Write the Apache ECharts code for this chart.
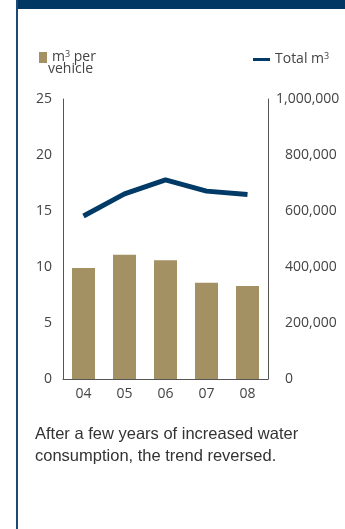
<!DOCTYPE html>
<html>
<head>
<meta charset="utf-8">
<script src="https://cdn.jsdelivr.net/npm/echarts@6/dist/echarts.min.js"></script>
<style>
  html, body { margin: 0; padding: 0; background: #fff; }
  #chart { width: 345px; height: 529px; }
</style>
</head>
<body>
<div id="chart"></div>
<script>
const years = ['04', '05', '06', '07', '08'];
const perVehicle = [9.9, 11.1, 10.6, 8.6, 8.3];
const totalM3 = [582000, 661000, 711000, 671000, 659000];
const leftTicks = { min: 0, max: 25, interval: 5 };
const rightTicks = { min: 0, max: 1000000, interval: 200000 };

const navy = '#003a66';
const gold = '#a39163';
const axisGrey = '#555';
const labelGrey = '#444';
const fs = 14;

const chart = echarts.init(document.getElementById('chart'));
chart.setOption({
  backgroundColor: '#fff',
  animation: false,
  textStyle: { fontFamily: 'Open Sans' },
  grid: { left: 63, right: 77, top: 99, bottom: 150 },
  legend: [
    {
      data: [{ name: 'perVehicle', icon: 'rect' }],
      left: 34, top: 45,
      itemWidth: 8, itemHeight: 11, itemGap: 5,
      formatter: () => '{a|m}{s|3}{a| per}',
      textStyle: {
        rich: {
          a: { fontSize: fs, color: labelGrey, fontFamily: 'Open Sans' },
          s: { fontSize: 9, color: labelGrey, fontFamily: 'Open Sans', verticalAlign: 'top', padding: [0, 0, 6, 0] }
        }
      }
    },
    {
      data: [{ name: 'total', icon: 'rect' }],
      left: 248, top: 47,
      itemWidth: 17, itemHeight: 3, itemGap: 6,
      formatter: () => '{a|Total m}{s|3}',
      textStyle: {
        rich: {
          a: { fontSize: fs, color: labelGrey, fontFamily: 'Open Sans' },
          s: { fontSize: 9, color: labelGrey, fontFamily: 'Open Sans', verticalAlign: 'top', padding: [0, 0, 6, 0] }
        }
      }
    }
  ],
  xAxis: {
    type: 'category',
    data: years,
    axisLine: { lineStyle: { color: axisGrey, width: 1 } },
    axisTick: { show: false },
    axisLabel: { color: labelGrey, fontSize: fs, margin: 8 }
  },
  yAxis: [
    {
      type: 'value',
      min: leftTicks.min, max: leftTicks.max, interval: leftTicks.interval,
      axisLine: { show: true, lineStyle: { color: axisGrey, width: 1 } },
      axisTick: { show: false },
      splitLine: { show: false },
      axisLabel: { color: labelGrey, fontSize: fs, margin: 11 }
    },
    {
      type: 'value',
      position: 'right',
      min: rightTicks.min, max: rightTicks.max, interval: rightTicks.interval,
      axisLine: { show: true, lineStyle: { color: axisGrey, width: 1 } },
      axisTick: { show: false },
      splitLine: { show: false },
      axisLabel: {
        color: labelGrey, fontSize: fs, margin: 8, align: 'left',
        formatter: v => {
          const s = v.toLocaleString('en-US');
          return v === 1000000 ? '{a|' + s + '}' : '{p|' + s + '}';
        },
        rich: {
          a: { color: labelGrey, fontSize: fs, fontFamily: 'Open Sans' },
          p: { color: labelGrey, fontSize: fs, fontFamily: 'Open Sans', padding: [0, 0, 0, 9] }
        }
      }
    }
  ],
  series: [
    {
      name: 'perVehicle',
      type: 'bar',
      data: perVehicle,
      barWidth: 23,
      itemStyle: { color: gold }
    },
    {
      name: 'total',
      type: 'line',
      yAxisIndex: 1,
      data: totalM3,
      symbol: 'none',
      lineStyle: { color: navy, width: 5 },
      itemStyle: { color: navy }
    }
  ],
  graphic: [
    { type: 'rect', left: 16, top: 0, shape: { width: 329, height: 9 }, style: { fill: '#013863' } },
    { type: 'rect', left: 16, top: 0, shape: { width: 2, height: 529 }, style: { fill: '#1c4a75' } },
    {
      type: 'text', left: 48, top: 62,
      style: { text: 'vehicle', font: fs + 'px "Open Sans"', fill: labelGrey }
    },
    {
      type: 'text', left: 35, top: 423,
      style: {
        text: 'After a few years of increased water\nconsumption, the trend reversed.',
        font: '16.5px "Liberation Sans"',
        fill: '#333',
        lineHeight: 22
      }
    }
  ]
});
</script>
</body>
</html>
